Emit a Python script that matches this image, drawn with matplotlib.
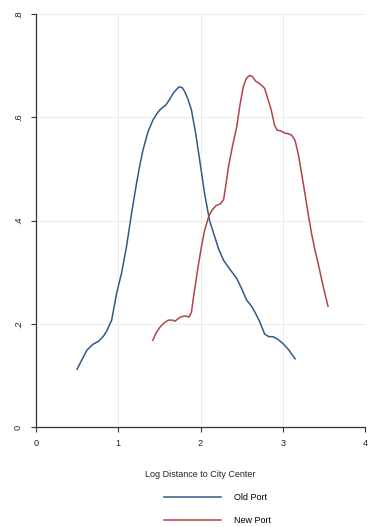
import matplotlib
matplotlib.use("Agg")
import matplotlib.pyplot as plt

plt.rcParams['font.family'] = ['Liberation Sans', 'DejaVu Sans']

old_x = [0.50, 0.56, 0.62, 0.69, 0.76, 0.82, 0.86, 0.92, 0.98, 1.04, 1.10, 1.16, 1.22, 1.26,
         1.30, 1.36, 1.42, 1.47, 1.51, 1.58, 1.63, 1.67, 1.71, 1.74, 1.78, 1.81, 1.85, 1.89,
         1.94, 1.99, 2.05, 2.11, 2.16, 2.22, 2.28, 2.36, 2.44, 2.50, 2.56, 2.62, 2.66, 2.72,
         2.78, 2.83, 2.88, 2.94, 3.00, 3.07, 3.15]
old_y = [0.112, 0.131, 0.149, 0.160, 0.166, 0.176, 0.186, 0.207, 0.259, 0.298, 0.349, 0.412,
         0.470, 0.505, 0.536, 0.571, 0.594, 0.607, 0.615, 0.624, 0.636, 0.647, 0.654, 0.659,
         0.657, 0.649, 0.634, 0.614, 0.570, 0.517, 0.452, 0.400, 0.375, 0.345, 0.323, 0.305,
         0.288, 0.268, 0.246, 0.234, 0.223, 0.204, 0.180, 0.175, 0.175, 0.170, 0.162, 0.150,
         0.132]

new_x = [1.42, 1.46, 1.51, 1.56, 1.61, 1.66, 1.69, 1.73, 1.77, 1.82, 1.86, 1.89, 1.91, 1.94,
         1.97, 2.01, 2.05, 2.10, 2.14, 2.19, 2.24, 2.28, 2.31, 2.34, 2.39, 2.44, 2.48, 2.52,
         2.56, 2.60, 2.63, 2.67, 2.72, 2.78, 2.82, 2.86, 2.90, 2.93, 2.97, 3.03, 3.07, 3.11,
         3.15, 3.19, 3.23, 3.27, 3.31, 3.35, 3.39, 3.43, 3.47, 3.51, 3.55]
new_y = [0.168, 0.182, 0.194, 0.202, 0.207, 0.207, 0.205, 0.210, 0.214, 0.215, 0.213, 0.222,
         0.246, 0.278, 0.310, 0.348, 0.381, 0.408, 0.420, 0.429, 0.432, 0.440, 0.470, 0.504,
         0.545, 0.581, 0.624, 0.659, 0.676, 0.681, 0.679, 0.670, 0.665, 0.656, 0.635, 0.614,
         0.585, 0.575, 0.574, 0.569, 0.568, 0.565, 0.555, 0.528, 0.490, 0.452, 0.412, 0.375,
         0.344, 0.317, 0.288, 0.260, 0.234]

series_labels = ["Old Port", "New Port"]
x_ticks = [0, 1, 2, 3, 4]
y_ticks = [0, 0.2, 0.4, 0.6, 0.8]
y_tick_labels = ["0", ".2", ".4", ".6", ".8"]
x_title = "Log Distance to City Center"

fig = plt.figure(figsize=(3.69, 5.27), dpi=100)
ax = fig.add_axes([36/369, 1 - 427/527, (365 - 36)/369, (427 - 14)/527])

l1, = ax.plot(old_x, old_y, color='#2e5b87', lw=1.1, label=series_labels[0])
l2, = ax.plot(new_x, new_y, color='#b2434c', lw=1.1, label=series_labels[1])

ax.set_xlim(0, 4)
ax.set_ylim(0, 0.8)
ax.set_xticks(x_ticks)
ax.set_xticklabels([str(t) for t in x_ticks])
ax.set_yticks(y_ticks)
ax.set_yticklabels(y_tick_labels, rotation=90, va='center')
ax.grid(True, color='#ececec', lw=0.7)
ax.set_axisbelow(True)
for s in ['top', 'right']:
    ax.spines[s].set_visible(False)
for s in ['left', 'bottom']:
    ax.spines[s].set_color('#333333')
    ax.spines[s].set_linewidth(0.9)
ax.tick_params(axis='both', length=3.5, width=0.8, color='#333333', labelsize=6.6, labelcolor='#222222')
ax.tick_params(axis='x', pad=5)
ax.tick_params(axis='y', pad=6)

ax.set_xlabel(x_title, fontsize=6.5, labelpad=16, color='#222222')

fig.legend(handles=[l1, l2], loc='upper left', bbox_to_anchor=(157/369, 1 - 486/527),
           frameon=False, fontsize=6.5, handlelength=6.3, handletextpad=1.45,
           labelspacing=1.5, ncol=1, borderpad=0.3)

fig.savefig('out.png', dpi=100)
